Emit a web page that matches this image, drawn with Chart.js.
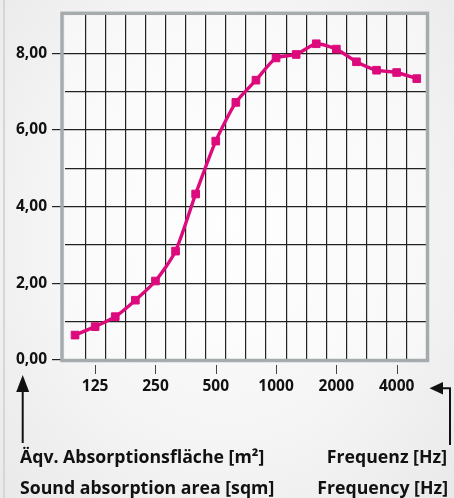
<!DOCTYPE html>
<html>
<head>
<meta charset="utf-8">
<script src="https://cdn.jsdelivr.net/npm/chart.js@4.4.1/dist/chart.umd.min.js"></script>
<style>
  html, body { margin: 0; padding: 0; }
  body {
    width: 454px; height: 498px; overflow: hidden; position: relative;
    background: radial-gradient(ellipse at 50% 45%, #fdfdfd 0%, #f5f5f5 55%, #e9e9e9 100%);
  }
  .edge { position: absolute; left: 3px; top: 0; width: 2px; height: 498px; background: #d6d6d6; }
  .wrap { position: absolute; left: 0; top: 0; width: 454px; height: 498px; }
  .lbl {
    position: absolute; font-family: 'Open Sans', 'Liberation Sans', sans-serif; font-weight: bold;
    font-size: 17.7px; line-height: 20px; color: #111; white-space: nowrap;
  }
</style>
</head>
<body>
<div class="edge"></div>
<div class="wrap"><canvas id="chart"></canvas></div>
<div class="lbl" style="left:20px; top:446px;">Äqv. Absorptionsfläche [m²]</div>
<div class="lbl" style="left:20px; top:477px;">Sound absorption area [sqm]</div>
<div class="lbl" style="right:7px; top:446px;">Frequenz [Hz]</div>
<div class="lbl" style="right:6px; top:477px;">Frequency [Hz]</div>
<script>
// third-octave bands, Hz
const freqs = ['100', '125', '160', '200', '250', '315', '400', '500', '630',
  '800', '1000', '1250', '1600', '2000', '2500', '3150', '4000', '5000'];
// equivalent absorption area, m²
const absorption = [0.65, 0.87, 1.13, 1.56, 2.06, 2.84, 4.33, 5.71, 6.72,
  7.30, 7.88, 7.97, 8.25, 8.11, 7.78, 7.56, 7.50, 7.34];
const xTickLabels = ['125', '250', '500', '1000', '2000', '4000'];
const yLabelValues = [0, 2, 4, 6, 8];

const axisFont = { family: "'Open Sans', 'Liberation Sans', sans-serif", size: 15.5, weight: 'bold' };
const magenta = '#dc0a7c';
const gridColor = '#222';

// frame, x tick marks and the two arrows
const decorations = {
  id: 'decorations',
  beforeDraw(chart) {
    const { ctx, chartArea: a } = chart;
    ctx.save();
    ctx.fillStyle = 'rgba(255,255,255,0.45)';
    ctx.fillRect(a.left, a.top, a.right - a.left, a.bottom - a.top);
    ctx.restore();
  },
  beforeDatasetsDraw(chart) {
    const { ctx, chartArea: a } = chart;
    const x = chart.scales.x;
    ctx.save();
    ctx.strokeStyle = '#a6abae';
    ctx.lineWidth = 3.5;
    ctx.strokeRect(a.left - 3, a.top - 1.7, a.right - a.left + 3.7, a.bottom - a.top + 2.2);

    ctx.strokeStyle = '#444';
    ctx.lineWidth = 1;
    xTickLabels.forEach(l => {
      const px = Math.round(x.getPixelForValue(freqs.indexOf(l))) + 0.5;
      ctx.beginPath();
      ctx.moveTo(px, a.bottom + 5);
      ctx.lineTo(px, a.bottom + 14);
      ctx.stroke();
    });
    ctx.restore();
  },
  afterDraw(chart) {
    const { ctx } = chart;
    ctx.save();
    ctx.strokeStyle = '#111';
    ctx.fillStyle = '#111';
    ctx.lineWidth = 2;
    // up arrow (y axis)
    ctx.beginPath();
    ctx.moveTo(22.7, 443);
    ctx.lineTo(22.7, 388);
    ctx.stroke();
    ctx.beginPath();
    ctx.moveTo(22.7, 375);
    ctx.lineTo(16.2, 392);
    ctx.lineTo(29.2, 392);
    ctx.closePath();
    ctx.fill();
    // left arrow (x axis)
    ctx.beginPath();
    ctx.moveTo(450, 445);
    ctx.lineTo(450, 388.3);
    ctx.lineTo(440, 388.3);
    ctx.stroke();
    ctx.beginPath();
    ctx.moveTo(429.5, 388.3);
    ctx.lineTo(443, 382);
    ctx.lineTo(443, 394.6);
    ctx.closePath();
    ctx.fill();
    ctx.restore();
  }
};

new Chart(document.getElementById('chart'), {
  type: 'line',
  data: {
    labels: freqs,
    datasets: [{
      data: absorption,
      borderColor: magenta,
      backgroundColor: magenta,
      borderWidth: 3.4,
      tension: 0.22,
      pointStyle: 'rect',
      pointRadius: 5.4,
      pointBorderWidth: 1,
      pointBorderColor: magenta,
      pointBackgroundColor: magenta
    }]
  },
  options: {
    responsive: true,
    maintainAspectRatio: false,
    animation: false,
    layout: { padding: { left: 0, top: 15, right: 27.2, bottom: 98 } },
    plugins: { legend: { display: false }, tooltip: { enabled: false } },
    scales: {
      x: {
        type: 'category',
        offset: true,
        border: { display: false },
        grid: {
          offset: true,
          drawTicks: false,
          lineWidth: 1.2,
          color: ctx => (ctx.index === 0 ? 'transparent' : gridColor)
        },
        ticks: {
          autoSkip: false,
          maxRotation: 0,
          padding: 17.2,
          color: '#111',
          font: axisFont,
          callback(v) {
            const l = this.getLabelForValue(v);
            return xTickLabels.includes(l) ? l : '';
          }
        },
        afterFit(s) { s.height = 40; }
      },
      y: {
        min: 0,
        max: 9,
        border: { display: false },
        grid: {
          lineWidth: 1.2,
          tickLength: 13,
          color: ctx => (ctx.tick && ctx.tick.value === 9 ? 'transparent' : gridColor),
          tickColor: ctx => (ctx.tick && yLabelValues.includes(ctx.tick.value) ? '#222' : 'transparent'),
          tickWidth: 1.2
        },
        ticks: {
          stepSize: 1,
          padding: 5,
          color: '#111',
          font: axisFont,
          callback: v => (yLabelValues.includes(v) ? v.toFixed(2).replace('.', ',') : '')
        },
        afterFit(s) { s.width = 65; }
      }
    }
  },
  plugins: [decorations]
});
</script>
</body>
</html>
